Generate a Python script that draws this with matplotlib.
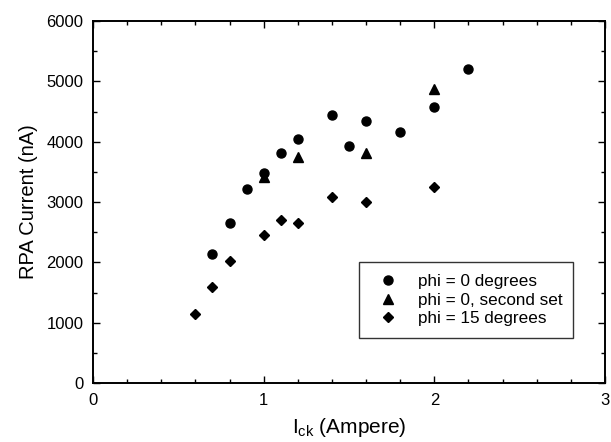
import matplotlib
matplotlib.use("Agg")
import matplotlib.pyplot as plt
from matplotlib.ticker import MultipleLocator

plt.rcParams['font.family'] = ['Liberation Sans', 'DejaVu Sans']
plt.rcParams['mathtext.fontset'] = 'custom'
plt.rcParams['mathtext.rm'] = 'Liberation Sans'
plt.rcParams['mathtext.it'] = 'Liberation Sans'
plt.rcParams['mathtext.sf'] = 'Liberation Sans'

# phi = 0 degrees
x_phi0 = [0.7, 0.8, 0.9, 1.0, 1.1, 1.2, 1.4, 1.5, 1.6, 1.8, 2.0, 2.2]
y_phi0 = [2130, 2660, 3210, 3480, 3810, 4040, 4440, 3920, 4350, 4160, 4570, 5210]
# phi = 0, second set
x_phi0b = [1.0, 1.2, 1.6, 2.0]
y_phi0b = [3410, 3740, 3810, 4870]
# phi = 15 degrees
x_phi15 = [0.6, 0.7, 0.8, 1.0, 1.1, 1.2, 1.4, 1.6, 2.0]
y_phi15 = [1145, 1590, 2025, 2455, 2700, 2650, 3085, 3000, 3250]

fig = plt.figure(figsize=(6.11, 4.42), dpi=100)
ax = fig.add_axes([93/611, 1 - 383/442, 512/611, 362/442])

ax.plot(x_phi0, y_phi0, 'o', color='black', markersize=6.5, label='phi = 0 degrees')
ax.plot(x_phi0b, y_phi0b, '^', color='black', markersize=6.5, label='phi = 0, second set')
ax.plot(x_phi15, y_phi15, 'D', color='black', markersize=5.5, label='phi = 15 degrees')

ax.set_xlim(0, 3)
ax.set_ylim(0, 6000)
ax.xaxis.set_major_locator(MultipleLocator(1))
ax.xaxis.set_minor_locator(MultipleLocator(0.2))
ax.yaxis.set_major_locator(MultipleLocator(1000))
ax.yaxis.set_minor_locator(MultipleLocator(500))
ax.tick_params(which='both', direction='in', top=True, right=True, labelsize=12, pad=7)
ax.tick_params(which='major', length=5, width=1)
ax.tick_params(which='minor', length=3, width=1)
for s in ax.spines.values():
    s.set_linewidth(1.4)

ax.set_xlabel(r'I$_{\mathsf{ck}}$ (Ampere)', fontsize=15, labelpad=6)
ax.set_ylabel('RPA Current (nA)', fontsize=14.5, labelpad=6)

leg = ax.legend(loc='lower left', bbox_to_anchor=((359-93)/512, (383-338)/362, (573-359)/512, (338-262)/362),
                mode='expand', fontsize=12.3, frameon=True, fancybox=False, borderaxespad=0,
                handlelength=1.95, handletextpad=0.83, labelspacing=0.2, borderpad=0.7)
leg.get_frame().set_edgecolor('black')
leg.get_frame().set_linewidth(1.0)

fig.savefig('out.png', dpi=100)
